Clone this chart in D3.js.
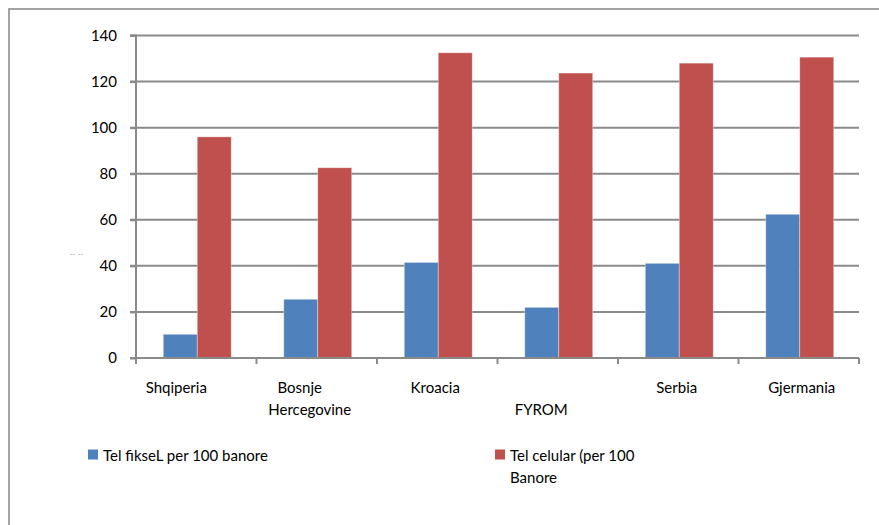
<!DOCTYPE html>
<html>
<head>
<meta charset="utf-8">
<script src="https://cdn.jsdelivr.net/npm/d3@7"></script>
<style>
  html, body { margin: 0; padding: 0; background: #ffffff; }
  svg { display: block; font-family: Lato, "Open Sans", sans-serif; }
</style>
</head>
<body>
<svg id="chart" width="879" height="525"></svg>
<script>
// Countries (label lines as they wrap under the axis)
const categories = ["Shqiperia", "Bosnje Hercegovine", "Kroacia", "FYROM", "Serbia", "Gjermania"];
const categoryLines = [["Shqiperia"], ["Bosnje", "Hercegovine"], ["Kroacia"], ["", "FYROM"], ["Serbia"], ["Gjermania"]];

// Series values (per 100 inhabitants)
const seriesNames = ["Tel fikseL per 100 banore", "Tel celular (per 100 Banore"];
const fixedLines = [10.3, 25.5, 41.5, 22.0, 41.1, 62.4];
const mobileLines = [96.0, 82.6, 132.5, 123.7, 128.0, 130.6];

// Axis ticks
const yTicks = [0, 20, 40, 60, 80, 100, 120, 140];

const colors = ["#4F81BD", "#C0504D"];
const gridColor = "#8a8a8a";
const fontSize = 15;

const svg = d3.select("#chart");

// Outer chart frame
svg.append("rect")
  .attr("x", 9).attr("y", 9)
  .attr("width", 1000).attr("height", 1000)
  .attr("fill", "none")
  .attr("stroke", "#8c8c8c")
  .attr("stroke-width", 1.6);

const plot = { left: 136, right: 859, top: 35.5, bottom: 358 };

const x = d3.scaleBand()
  .domain(categories)
  .range([plot.left, plot.right])
  .paddingInner(0.436)
  .paddingOuter(0.218);

const xStep = d3.scaleBand()
  .domain(categories)
  .range([plot.left, plot.right]);

const xSeries = d3.scaleBand()
  .domain([0, 1])
  .range([0, x.bandwidth()]);

const y = d3.scaleLinear()
  .domain([0, 140])
  .range([plot.bottom, plot.top]);

// Horizontal gridlines
svg.append("g")
  .selectAll("line")
  .data(yTicks.filter(d => d > 0))
  .join("line")
  .attr("x1", plot.left - 6)
  .attr("x2", plot.right)
  .attr("y1", d => y(d))
  .attr("y2", d => y(d))
  .attr("stroke", gridColor)
  .attr("stroke-width", 2);

// Bars
const rows = categories.map((c, i) => ({ c, vals: [fixedLines[i], mobileLines[i]] }));
const groups = svg.append("g")
  .selectAll("g")
  .data(rows)
  .join("g")
  .attr("transform", d => `translate(${x(d.c) + 1},0)`);

groups.selectAll("rect")
  .data(d => d.vals.map((v, s) => ({ v, s })))
  .join("rect")
  .attr("x", d => xSeries(d.s))
  .attr("width", xSeries.bandwidth())
  .attr("y", d => y(d.v))
  .attr("height", d => y(0) - y(d.v))
  .attr("fill", d => colors[d.s])
  .attr("stroke", "rgba(255,255,255,0.45)")
  .attr("stroke-width", 0.8);

// Y axis
const yAxis = svg.append("g")
  .attr("transform", `translate(${plot.left},0)`)
  .call(d3.axisLeft(y).tickValues(yTicks).tickSize(6).tickPadding(13).tickFormat(d3.format("d")));
yAxis.select(".domain").attr("stroke", gridColor).attr("stroke-width", 2).attr("d", `M-6,${plot.top}H0V${plot.bottom}H-6`);
yAxis.selectAll(".tick line").attr("stroke", gridColor).attr("stroke-width", 2);
yAxis.selectAll(".tick text")
  .attr("font-size", fontSize)
  .attr("fill", "#000")
  .attr("font-family", "Lato, sans-serif");

// X axis: baseline and category separators
const xAxis = svg.append("g");
xAxis.append("line")
  .attr("x1", plot.left - 6).attr("x2", plot.right)
  .attr("y1", plot.bottom).attr("y2", plot.bottom)
  .attr("stroke", gridColor).attr("stroke-width", 2);
const boundaries = categories.map(c => xStep(c)).concat([plot.right]);
xAxis.selectAll("line.sep")
  .data(boundaries)
  .join("line")
  .attr("class", "sep")
  .attr("x1", d => d).attr("x2", d => d)
  .attr("y1", plot.bottom).attr("y2", plot.bottom + 6)
  .attr("stroke", gridColor).attr("stroke-width", 2);

// Category labels; each wrapped line sits a little off the band centre
const labelNudge = [[-20], [-17, -7], [-2], [0, -16.5], [-1.5], [3]];
const labels = svg.append("g")
  .attr("font-size", fontSize)
  .attr("fill", "#000")
  .attr("text-anchor", "middle");
categories.forEach((c, i) => {
  const cx = xStep(c) + xStep.bandwidth() / 2;
  categoryLines[i].forEach((line, j) => {
    if (!line) return;
    labels.append("text")
      .attr("x", cx + labelNudge[i][j])
      .attr("y", 392.5 + j * 22)
      .text(line);
  });
});

// Small axis title mark beside the value axis
svg.append("text")
  .attr("x", 70).attr("y", 256)
  .attr("font-size", 6)
  .attr("fill", "#555")
  .attr("letter-spacing", 0.6)
  .text("-- --");

// Legend
const legendItems = [
  { name: seriesNames[0], lines: ["Tel fikseL per 100 banore"], x: 88 },
  { name: seriesNames[1], lines: ["Tel celular (per 100", "Banore"], x: 495 }
];
const legend = svg.append("g").attr("font-size", fontSize).attr("fill", "#000");
legendItems.forEach((item, i) => {
  legend.append("rect")
    .attr("x", item.x).attr("y", 449.5)
    .attr("width", 10).attr("height", 10)
    .attr("fill", colors[i]);
  item.lines.forEach((line, j) => {
    legend.append("text")
      .attr("x", item.x + 15)
      .attr("y", 460.5 + j * 22)
      .text(line);
  });
});
</script>
</body>
</html>
